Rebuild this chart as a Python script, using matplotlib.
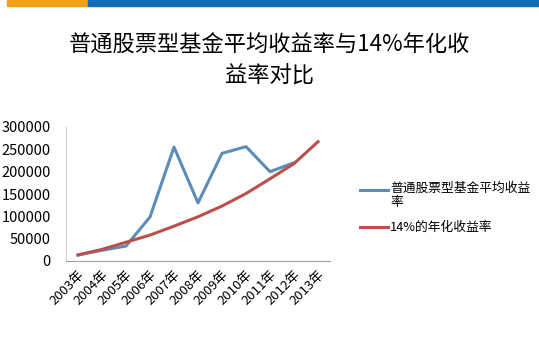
import matplotlib.pyplot as plt
import matplotlib.transforms as mtransforms
from matplotlib.patches import Rectangle

plt.rcParams['font.family'] = ['Noto Sans CJK SC', 'DejaVu Sans']

years = ['2003年', '2004年', '2005年', '2006年', '2007年', '2008年',
         '2009年', '2010年', '2011年', '2012年', '2013年']
fund = [13500, 24000, 33500, 98500, 255000, 130000,
        241000, 256000, 200000, 220000, None]
rate14 = [13500, 26000, 42000, 58000, 78000, 99000,
          123000, 151000, 184000, 218000, 267000]
yticks = [0, 50000, 100000, 150000, 200000, 250000, 300000]

fig = plt.figure(figsize=(5.39, 3.61), dpi=100)
fig.patch.set_facecolor('white')

# top bars
fig.patches.append(Rectangle((7/539, 1 - 6/361), 81/539, 6/361,
                             transform=fig.transFigure, color='#F5A01A'))
fig.patches.append(Rectangle((88/539, 1 - 6/361), 451/539, 6/361,
                             transform=fig.transFigure, color='#0E6DB5'))

fig.text(0.5, 1 - 45/361, '普通股票型基金平均收益率与14%年化收',
         ha='center', va='center', fontsize=16, fontweight='medium')
fig.text(0.5, 1 - 76/361, '益率对比',
         ha='center', va='center', fontsize=16, fontweight='medium')

ax = fig.add_axes([66/539, 1 - 261/361, 264/539, 134/361])
x = list(range(len(years)))
ax.plot(x, fund, color='#5B8DB8', lw=2.2, label='普通股票型基金平均收益\n率')
ax.plot(x, rate14, color='#B9504B', lw=2.2, label='14%的年化收益率')

ax.set_xlim(-0.5, len(years) - 0.5)
ax.set_ylim(0, 300000)
ax.set_yticks(yticks)
ax.set_yticklabels([str(v) for v in yticks], fontsize=10.5)
ax.tick_params(axis='y', length=0, pad=11)
ax.set_xticks(x)
ax.set_xticklabels(years, rotation=45, ha='right', rotation_mode='anchor',
                   fontsize=9.5)
ax.tick_params(axis='x', length=0, pad=5)
for s in ['top', 'right']:
    ax.spines[s].set_visible(False)
ax.spines['left'].set_color('#D0D0D0')
ax.spines['bottom'].set_color('#A0A0A0')

leg = fig.legend(loc='upper left', bbox_to_anchor=(348/539, 1 - 170/361),
                 frameon=False, fontsize=9.2, handlelength=2.2,
                 labelspacing=0.9, handletextpad=0.2)
# keep the first handle level with the first text line
h0 = leg.legend_handles[0]
h0.set_transform(h0.get_transform() +
                 mtransforms.ScaledTranslation(0, 0.06, fig.dpi_scale_trans))

fig.savefig('out.png', dpi=100)
